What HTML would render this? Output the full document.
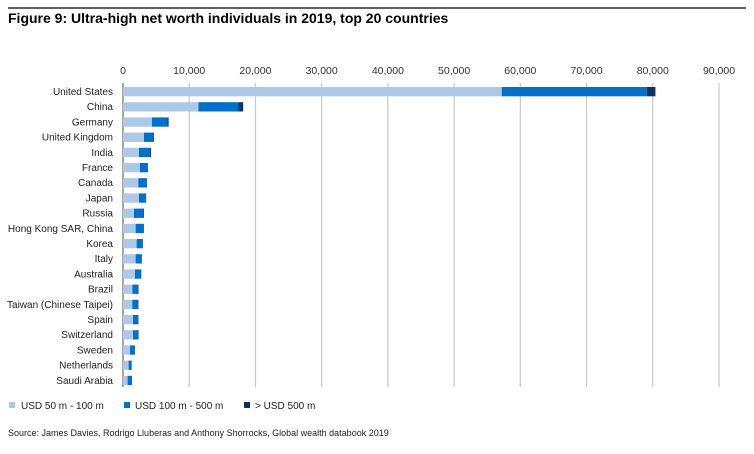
<!DOCTYPE html>
<html><head><meta charset="utf-8"><style>
body{margin:0;background:#fff;width:754px;height:449px;overflow:hidden;font-family:"Liberation Sans",Arial,sans-serif;}
svg text{font-family:"Liberation Sans",Arial,sans-serif;}
</style></head><body>
<svg width="754" height="449">
<line x1="8" y1="8" x2="746" y2="8" stroke="#000" stroke-width="1.2"/>
<text x="8" y="23" font-size="14" font-weight="bold" fill="#000">Figure 9: Ultra-high net worth individuals in 2019, top 20 countries</text>
<g id="grid"></g><g id="bars"></g><g id="labels"></g>
<g>
<rect x="9" y="402" width="6" height="6" fill="#aec8e8"/>
<text x="21" y="409" font-size="10" fill="#222">USD 50 m - 100 m</text>
<rect x="124" y="402" width="6" height="6" fill="#0070c8"/>
<text x="135" y="409" font-size="10" fill="#222">USD 100 m - 500 m</text>
<rect x="244" y="402" width="6" height="6" fill="#0a3563"/>
<text x="255" y="409" font-size="10" fill="#222">&gt; USD 500 m</text>
</g>
<text x="8" y="436" font-size="9" fill="#222">Source: James Davies, Rodrigo Lluberas and Anthony Shorrocks, Global wealth databook 2019</text>
</svg>
<script>
const categories=["United States","China","Germany","United Kingdom","India","France","Canada","Japan","Russia","Hong Kong SAR, China","Korea","Italy","Australia","Brazil","Taiwan (Chinese Taipei)","Spain","Switzerland","Sweden","Netherlands","Saudi Arabia"];
const s50=[57200,11400,4370,3170,2410,2560,2310,2410,1660,1910,2060,1910,1810,1410,1410,1510,1510,1060,850,700];
const s100=[21900,6040,2310,1450,1660,1160,1260,1060,1410,1210,910,910,910,900,900,800,800,700,420,600];
const s500=[1300,710,210,60,150,50,50,30,100,50,40,40,40,50,40,40,50,50,40,60];
const ticks=[0,10000,20000,30000,40000,50000,60000,70000,80000,90000];
const NS="http://www.w3.org/2000/svg";
const x=v=>123+v*(596/90000);
const y=i=>91.5+i*15.2;
function mk(t,a,p){const e=document.createElementNS(NS,t);for(const k in a)e.setAttribute(k,a[k]);p.appendChild(e);return e;}
const grid=document.getElementById('grid'),bars=document.getElementById('bars'),labels=document.getElementById('labels');
ticks.forEach((t,i)=>{
 const l=mk('line',{x1:x(t),x2:x(t),y1:83,y2:387,stroke:i==0?'#888':'#c8c8c8','stroke-width':i==0?1.5:1.2},grid);
 
 
 const tx=mk('text',{x:x(t),y:74,'font-size':10.5,'text-anchor':'middle',fill:'#333'},grid);
 tx.textContent=t.toLocaleString('en-US');
 
 
});
categories.forEach((c,i)=>{
 const cy=y(i);
 const t=mk('text',{x:113,y:cy+3.5,'font-size':10,'text-anchor':'end',fill:'#222'},labels);
 t.textContent=c;
 
 
 let acc=0;
 [[s50,'#aec8e8','bar-50-100'],[s100,'#0070c8','bar-100-500'],[s500,'#0a3563','bar-500']].forEach(([arr,col,nm])=>{
  const v=arr[i];
  const r=mk('rect',{x:x(acc),y:cy-4.5,width:x(acc+v)-x(acc),height:9.3,fill:col},bars);
  
  
  acc+=v;
 });
});
</script>
</body></html>
